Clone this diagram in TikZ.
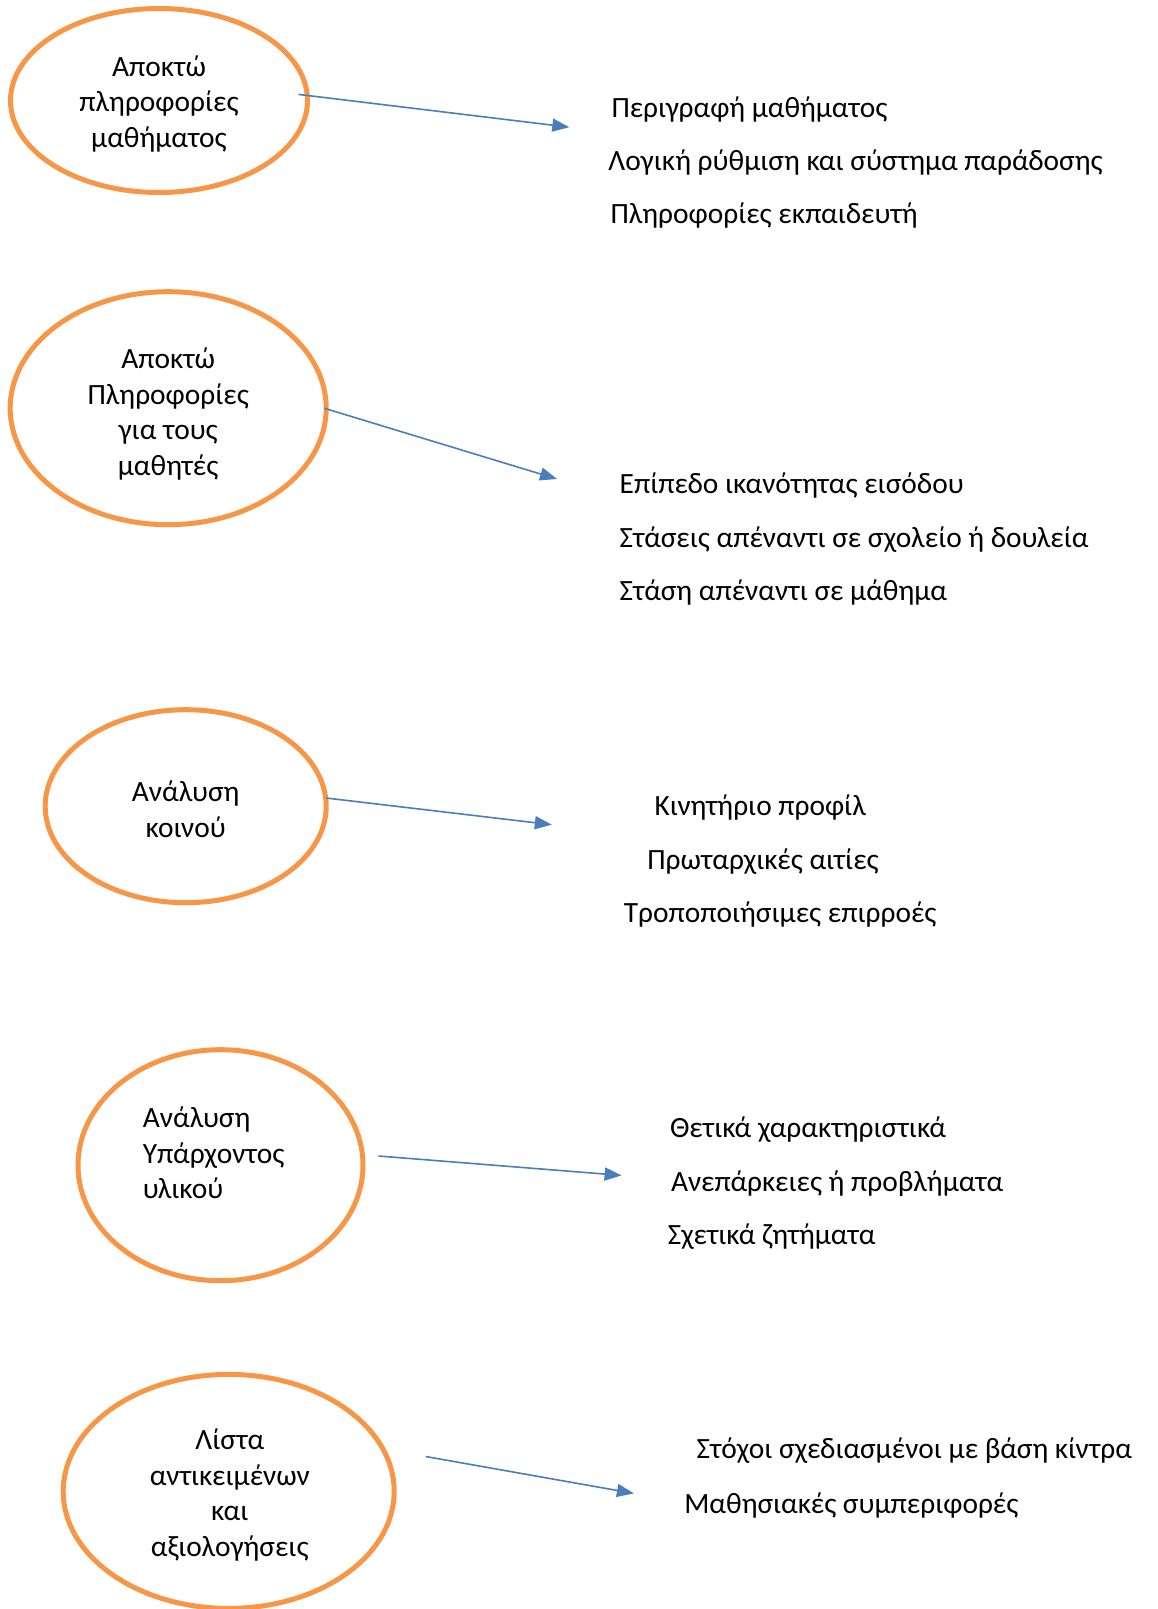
\documentclass[tikz,border=0pt]{standalone}
\usepackage{fontspec}
\setmainfont{Carlito}
\usetikzlibrary{shapes.geometric,arrows.meta}
\definecolor{bubbleorange}{HTML}{F79646}
\definecolor{arrowblue}{HTML}{4A7EBB}
\begin{document}
\begin{tikzpicture}[x=1pt,y=-1pt,
  bubble/.style={ellipse,draw=bubbleorange,line width=5pt,inner sep=0pt,fill=none},
  caption/.style={align=center,inner sep=0pt,font=\fontsize{29.4}{35.5}\selectfont},
  item/.style={anchor=west,inner sep=0pt,text height=0.72em,text depth=0.22em,font=\fontsize{29.4}{34}\selectfont},
  flow/.style={draw=arrowblue,line width=1.6pt,-{Triangle[length=17pt,width=13pt]}}]
\useasboundingbox (0,0) rectangle (1157,1609);

% --- bubble 1
\node[bubble,minimum width=297pt,minimum height=184pt] (e1) at (159,100.5) {};
\node[caption] (c1) at (159,104) {Αποκτώ\\πληροφορίες\\μαθήματος};
\coordinate (s1) at (298.5,94.4);
\coordinate (d1) at (569.3,127.2);
\draw[flow] (s1) -- (d1);
\node[item] (i11) at (611.3,114.5) {Περιγραφή μαθήματος};
\node[item] (i12) at (608.2,168) {Λογική ρύθμιση και σύστημα παράδοσης};
\node[item] (i13) at (610.3,221.4) {Πληροφορίες εκπαιδευτή};

% --- bubble 2
\node[bubble,minimum width=316pt,minimum height=233pt] (e2) at (168.2,408.2) {};
\node[caption] (c2) at (168.2,414) {Αποκτώ\\Πληροφορίες\\για τους\\μαθητές};
\coordinate (s2) at (324.1,408.2);
\coordinate (d2) at (557,479);
\draw[flow] (s2) -- (d2);
\node[item] (i21) at (619.5,491) {Επίπεδο ικανότητας εισόδου};
\node[item] (i22) at (619.5,544.5) {Στάσεις απέναντι σε σχολείο ή δουλεία};
\node[item] (i23) at (619.5,597.8) {Στάση απέναντι σε μάθημα};

% --- bubble 3
\node[bubble,minimum width=281pt,minimum height=193pt] (e3) at (185.7,806.2) {};
\node[caption] (c3) at (185.7,809) {Ανάλυση\\κοινού};
\coordinate (s3) at (326.2,798);
\coordinate (d3) at (551.8,824.7);
\draw[flow] (s3) -- (d3);
\node[item] (i31) at (654.4,813.2) {Κινητήριο προφίλ};
\node[item] (i32) at (647.2,866.5) {Πρωταρχικές αιτίες};
\node[item] (i33) at (623.6,919.9) {Τροποποιήσιμες επιρροές};

% --- bubble 4
\node[bubble,minimum width=285pt,minimum height=231pt] (e4) at (220.5,1165.2) {};
\node[caption,align=left,anchor=west] (c4) at (142.6,1153) {Ανάλυση\\Υπάρχοντος\\υλικού};
\coordinate (s4) at (378.5,1156);
\coordinate (d4) at (621.6,1175.4);
\draw[flow] (s4) -- (d4);
\node[item] (i41) at (669.8,1135.3) {Θετικά χαρακτηριστικά};
\node[item] (i42) at (670.8,1188.6) {Ανεπάρκειες ή προβλήματα};
\node[item] (i43) at (667.7,1242) {Σχετικά ζητήματα};

% --- bubble 5
\node[bubble,minimum width=331pt,minimum height=234pt] (e5) at (228.7,1491.4) {};
\node[caption] (c5) at (229.8,1495) {Λίστα\\αντικειμένων\\και\\αξιολογήσεις};
\coordinate (s5) at (425.7,1456.5);
\coordinate (d5) at (633.9,1493.4);
\draw[flow] (s5) -- (d5);
\node[item] (i51) at (696.5,1456.3) {Στόχοι σχεδιασμένοι με βάση κίντρα};
\node[item] (i52) at (684.1,1510.7) {Μαθησιακές συμπεριφορές};
\end{tikzpicture}
\end{document}
